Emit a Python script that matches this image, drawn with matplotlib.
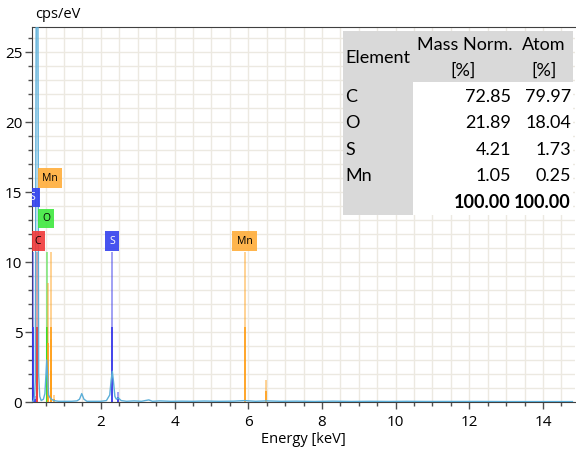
import matplotlib.pyplot as plt
import numpy as np

plt.rcParams['font.family'] = ['Open Sans', 'DejaVu Sans']

# measured spectrum (keV, cps/eV)
spec_energy = [0.13, 0.17, 0.20, 0.22, 0.245, 0.29, 0.31, 0.34, 0.38, 0.44, 0.48, 0.51,
               0.53, 0.55, 0.58, 0.62, 0.66, 0.72, 0.85, 1.0, 1.2, 1.35, 1.42, 1.48,
               1.54, 1.62, 1.8, 2.0, 2.15, 2.24, 2.28, 2.31, 2.34, 2.38, 2.42, 2.47,
               2.55, 2.7, 2.9, 3.1, 3.3, 3.4, 3.6, 3.9, 4.2, 4.5, 4.8, 5.2, 5.6, 5.9,
               6.2, 6.5, 6.9, 7.3, 7.8, 8.3, 8.8, 9.3, 9.8, 10.3, 10.8, 11.5, 12.2,
               13.0, 13.8, 14.8]
spec_cps = [0.0, 0.1, 0.4, 1.5, 28.0, 28.0, 2.0, 0.4, 0.1, 0.2, 0.6, 2.0,
            3.0, 2.0, 0.5, 0.3, 0.2, 0.1, 0.05, 0.05, 0.05, 0.08, 0.2, 0.6,
            0.2, 0.05, 0.05, 0.05, 0.1, 0.5, 1.6, 2.2, 1.5, 0.4, 0.2, 0.3,
            0.1, 0.05, 0.08, 0.05, 0.15, 0.05, 0.08, 0.05, 0.06, 0.05, 0.07, 0.05, 0.06, 0.1,
            0.05, 0.08, 0.05, 0.06, 0.04, 0.06, 0.04, 0.05, 0.04, 0.05, 0.04, 0.04, 0.04,
            0.03, 0.03, 0.03]

# element line markers: energy, relative height
line_c = [(0.277, 10.7)]
line_o = [(0.525, 10.7)]
line_s = [(0.149, 10.7), (0.21, 0.4), (2.307, 10.7), (2.464, 0.75)]
line_mn = [(0.556, 8.5), (0.637, 10.7), (0.65, 4.5), (0.72, 0.5), (5.899, 10.7), (6.49, 1.6)]

# peak labels: text, energy, y, box colour, text colour
labels = [("C", 0.277, 11.5, "#f03838", "black"),
          ("O", 0.51, 13.1, "#3ee83e", "black"),
          ("S", 0.149, 14.6, "#3340ee", "white"),
          ("Mn", 0.62, 16.0, "#ffad3a", "black"),
          ("S", 2.307, 11.5, "#3340ee", "white"),
          ("Mn", 5.899, 11.5, "#ffad3a", "black")]

# quantification table
tbl_elements = ["C", "O", "S", "Mn"]
tbl_mass = ["72.85", "21.89", "4.21", "1.05"]
tbl_atom = ["79.97", "18.04", "1.73", "0.25"]
tbl_total = ["100.00", "100.00"]

fig = plt.figure(figsize=(5.76, 4.49), dpi=100)
ax = fig.add_axes([32 / 576, 1 - 402 / 449, 543 / 576, 375 / 449])

ax.set_xlim(0.13, 14.87)
ax.set_ylim(0, 26.8)

ax.set_xticks(np.arange(2, 15, 2))
ax.set_xticks(np.arange(0.5, 15, 0.5), minor=True)
ax.set_yticks(np.arange(0, 26, 5))
ax.set_yticks(np.arange(0, 27, 1), minor=True)
ax.grid(True, which='both', color='#ece9e1', lw=1, zorder=0)
ax.tick_params(which='major', length=5, width=1, color='#505050', labelsize=11, pad=2)
ax.tick_params(which='minor', length=3, width=1, color='#505050')
ax.tick_params(axis='x', pad=4)
for sp in ['left', 'bottom', 'top']:
    ax.spines[sp].set_color('#404040')
ax.spines['right'].set_visible(False)

# element lines
for lines, col in [(line_c, '#e83030'), (line_o, '#22dd22'), (line_s, '#3535e8'), (line_mn, '#ff9f1a')]:
    for e, h in lines:
        ax.vlines(e, 0, h, color=col, lw=1.2, alpha=0.55, zorder=3)
        ax.vlines(e, 0, h / 2, color=col, lw=1.2, zorder=3)

ax.plot(spec_energy, spec_cps, color='#5aaed8', lw=1.0, zorder=4)

for txt, e, y, bg, fg in labels:
    ax.text(e, y, txt, fontsize=7.5, color=fg, ha='center', va='center', zorder=6, clip_on=True,
            bbox=dict(boxstyle='square,pad=0.4', fc=bg, ec='none', alpha=0.9))

ax.text(0.005, 1.012, "cps/eV", transform=ax.transAxes, fontsize=10.5, ha='left', va='bottom')
ax.set_xlabel("Energy [keV]", fontsize=10.5, labelpad=2)

# table
tf = 'Lato'
def px(x, y):
    return x / 576, 1 - y / 449

fig.patches.append(plt.Rectangle(px(343, 215), 230 / 576, 184 / 449, transform=fig.transFigure,
                                 fc='#d9d9d9', ec='none', zorder=5))
fig.patches.append(plt.Rectangle(px(413, 215), 160 / 576, 133 / 449, transform=fig.transFigure,
                                 fc='white', ec='none', zorder=6))
fs = 13
fig.text(*px(345, 58), "Element", fontsize=fs, family=tf, va='center', ha='left', zorder=7)
fig.text(*px(465, 45), "Mass Norm.", fontsize=fs, family=tf, va='center', ha='center', zorder=7)
fig.text(*px(463, 71), "[%]", fontsize=fs, family=tf, va='center', ha='center', zorder=7)
fig.text(*px(544, 45), "Atom", fontsize=fs, family=tf, va='center', ha='center', zorder=7)
fig.text(*px(544, 71), "[%]", fontsize=fs, family=tf, va='center', ha='center', zorder=7)
row_y = [97, 123, 150, 176]
for i, el in enumerate(tbl_elements):
    fig.text(*px(345, row_y[i]), el, fontsize=fs, family=tf, va='center', ha='left', zorder=7)
    fig.text(*px(511, row_y[i]), tbl_mass[i], fontsize=fs, family=tf, va='center', ha='right', zorder=7)
    fig.text(*px(571, row_y[i]), tbl_atom[i], fontsize=fs, family=tf, va='center', ha='right', zorder=7)
fig.text(*px(511, 202), tbl_total[0], fontsize=fs, family=tf, weight='bold', va='center', ha='right', zorder=7)
fig.text(*px(571, 202), tbl_total[1], fontsize=fs, family=tf, weight='bold', va='center', ha='right', zorder=7)

fig.savefig("out.png", dpi=100)
